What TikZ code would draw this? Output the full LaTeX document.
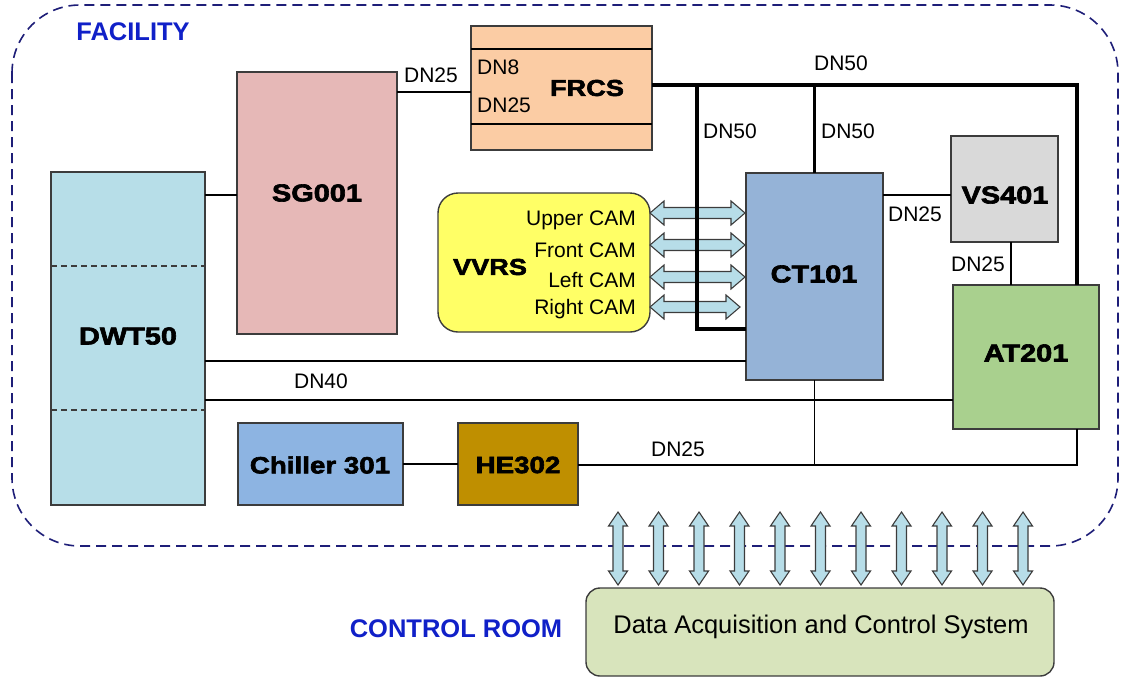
\documentclass[tikz,border=0pt]{standalone}
\usepackage{fontspec}
\setmainfont{Liberation Sans}
\newfontfamily\heavy{Liberation Sans}[FakeStretch=1.18,FakeBold=2.6]
\usetikzlibrary{calc}

\definecolor{dwtfill}{RGB}{183,222,232}
\definecolor{sgfill}{RGB}{230,184,183}
\definecolor{frcsfill}{RGB}{251,204,164}
\definecolor{vvrsfill}{RGB}{255,255,102}
\definecolor{ctfill}{RGB}{149,179,215}
\definecolor{vsfill}{RGB}{217,217,217}
\definecolor{atfill}{RGB}{169,208,142}
\definecolor{chfill}{RGB}{141,180,226}
\definecolor{hefill}{RGB}{191,143,0}
\definecolor{daqfill}{RGB}{216,228,188}
\definecolor{busfill}{RGB}{183,221,232}
\definecolor{edge}{RGB}{60,60,60}
\definecolor{navy}{RGB}{30,30,120}
\definecolor{roomblue}{RGB}{16,32,200}

% horizontal double arrow between two named points
\newcommand\hlink[2]{%
  \filldraw[bus] let \p1=(#1), \p2=(#2) in
    (\x1,\y1) -- (\x1+14pt,\y1+12pt) -- (\x1+14pt,\y1+5.5pt) -- (\x2-14pt,\y1+5.5pt)
    -- (\x2-14pt,\y1+12pt) -- (\x2,\y1) -- (\x2-14pt,\y1-12pt) -- (\x2-14pt,\y1-5.5pt)
    -- (\x1+14pt,\y1-5.5pt) -- (\x1+14pt,\y1-12pt) -- cycle;}
% vertical double arrow between two named points (first one on top)
\newcommand\vlink[2]{%
  \filldraw[bus] let \p1=(#1), \p2=(#2) in
    (\x1,\y1) -- (\x1+9.5pt,\y1-14pt) -- (\x1+5pt,\y1-14pt) -- (\x1+5pt,\y2+14pt)
    -- (\x1+9.5pt,\y2+14pt) -- (\x1,\y2) -- (\x1-9.5pt,\y2+14pt) -- (\x1-5pt,\y2+14pt)
    -- (\x1-5pt,\y1-14pt) -- (\x1-9.5pt,\y1-14pt) -- cycle;}

\begin{document}
\begin{tikzpicture}[x=1pt,y=-1pt,
  box/.style={draw=edge, line width=1.4pt, inner sep=0pt, outer sep=0pt, anchor=north west},
  biglbl/.style={font=\heavy\bfseries\fontsize{24.5}{28}\selectfont, inner sep=0pt},
  lbl/.style={font=\fontsize{21}{24}\selectfont, inner sep=0pt},
  pipe/.style={line width=2.2pt, black},
  thinpipe/.style={line width=1.7pt, black},
  thickpipe/.style={line width=3.2pt, black},
  bus/.style={fill=busfill, draw=edge, line width=1.1pt, line join=miter},
  room/.style={font=\bfseries\fontsize{25.5}{28}\selectfont, text=roomblue, inner sep=0pt},
  facility/.style={draw=navy, line width=1.6pt, dash pattern=on 10pt off 6pt, rounded corners=68pt}
]
\useasboundingbox (0,0) rectangle (1123,678);

% facility boundary
\draw[facility] (12,5) rectangle (1118,546);
\node[room] (facilitylbl) at (133,32) {FACILITY};
\node[room] (controllbl) at (456,629) {CONTROL ROOM};

% equipment blocks
\node[box, fill=dwtfill, minimum width=154pt, minimum height=333pt] (dwt) at (51,172) {};
\draw[edge, line width=1.2pt, dash pattern=on 6pt off 4pt] (dwt.west |- 0,266) -- (dwt.east |- 0,266);
\draw[edge, line width=1.2pt, dash pattern=on 6pt off 4pt] (dwt.west |- 0,410) -- (dwt.east |- 0,410);
\node[box, fill=sgfill, minimum width=160pt, minimum height=262pt] (sg) at (237,72) {};
\node[box, fill=frcsfill, minimum width=181pt, minimum height=124pt] (frcs) at (471,26) {};
\draw[black, line width=1.8pt] (frcs.west |- 0,49) -- (frcs.east |- 0,49);
\draw[black, line width=1.8pt] (frcs.west |- 0,124) -- (frcs.east |- 0,124);
\node[box, fill=vvrsfill, rounded corners=20pt, minimum width=212pt, minimum height=139pt] (vvrs) at (438,193) {};
\node[box, fill=ctfill, minimum width=137pt, minimum height=207pt] (ct) at (746,173) {};
\node[box, fill=vsfill, minimum width=107pt, minimum height=106pt] (vs) at (951,136) {};
\node[box, fill=atfill, minimum width=146pt, minimum height=144pt] (at) at (953,285) {};
\node[box, fill=chfill, minimum width=165pt, minimum height=82pt] (chiller) at (238,423) {};
\node[box, fill=hefill, minimum width=120pt, minimum height=82pt] (he) at (458,423) {};
\node[box, fill=daqfill, rounded corners=14pt, minimum width=468pt, minimum height=88pt] (daq) at (586,588) {};

% block titles
\node[biglbl] (dwtlbl) at (128,336) {DWT50};
\node[biglbl] (sglbl) at (317,193) {SG001};
\node[biglbl, font=\heavy\bfseries\fontsize{23}{26}\selectfont] (frcslbl) at (587,88) {FRCS};
\node[biglbl, font=\heavy\bfseries\fontsize{23}{26}\selectfont] (vvrslbl) at (490,267) {VVRS};
\node[biglbl] (ctlbl) at (814,274) {CT101};
\node[biglbl] (vslbl) at (1005,195) {VS401};
\node[biglbl] (atlbl) at (1026,353) {AT201};
\node[biglbl, font=\heavy\bfseries\fontsize{23.5}{28}\selectfont] (chlbl) at (320,465) {Chiller 301};
\node[biglbl, font=\heavy\bfseries\fontsize{23.5}{28}\selectfont] (helbl) at (518,465) {HE302};
\node[font=\fontsize{25.5}{28}\selectfont, inner sep=0pt] (daqlbl) at (821,627) {Data Acquisition and Control System};

% camera names
\foreach \k/\yy/\t in {1/220/Upper CAM, 2/250/Front CAM, 3/280/Left CAM, 4/309/Right CAM}
  \node[lbl, anchor=east] (cam\k) at (636,\yy) {\t};

% pipework
\coordinate (ne) at (1077,85);
\coordinate (loopTop) at (697,85);
\coordinate (loopBot) at (697,329);
\coordinate (se) at (1077,465);
\draw[pipe] (dwt.east |- 0,195) -- (sg.west |- 0,195);
\draw[pipe] (sg.east |- 0,92) -- (frcs.west |- 0,92);
\draw[thickpipe, line join=miter] (frcs.east |- ne) -- (ne) -- (at.north -| ne);
\draw[thickpipe, line join=miter] (loopTop) -- (loopBot) -- (ct.west |- loopBot);
\draw[thickpipe] (ct.north) -- (ct.north |- ne);
\draw[thinpipe] (ct.east |- 0,195) -- (vs.west |- 0,195);
\draw[thinpipe] (vs.south -| 1011,0) -- (at.north -| 1011,0);
\draw[pipe] (dwt.east |- 0,361) -- (ct.west |- 0,361);
\draw[pipe] (dwt.east |- 0,400) -- (at.west |- 0,400);
\draw[thinpipe] (ct.south) -- (ct.south |- se);
\draw[pipe] (chiller.east) -- (he.west);
\draw[pipe, line join=miter] (he.east |- se) -- (se) -- (at.south -| se);

% pipe sizes
\node[lbl] (dn25a) at (431,75) {DN25};
\node[lbl, anchor=west] (dn8) at (477,67) {DN8};
\node[lbl, anchor=west] (dn25b) at (477,105) {DN25};
\node[lbl] (dn50a) at (841,63) {DN50};
\node[lbl] (dn50b) at (730,131) {DN50};
\node[lbl] (dn50c) at (848,131) {DN50};
\node[lbl] (dn25c) at (915,214) {DN25};
\node[lbl] (dn25d) at (978,264) {DN25};
\node[lbl] (dn40) at (321,381) {DN40};
\node[lbl] (dn25e) at (678,449) {DN25};

% camera links VVRS <-> CT101
\foreach \k/\yy/\xe in {1/213/745, 2/245/745, 3/277/745, 4/307/740} {
  \coordinate (camL\k) at (vvrs.east |- 0,\yy);
  \coordinate (camR\k) at (\xe,\yy);
  \hlink{camL\k}{camR\k}
}
% redraw the loop line over the camera links
\draw[thickpipe] (loopTop |- camL1) ++(0,-12) -- (loopBot);

% data links facility <-> control room
\foreach \k in {0,...,10} {
  \coordinate (busT\k) at (618+40.5*\k,512);
  \coordinate (busB\k) at ($(daq.north -| busT\k)+(0,-3)$);
  \vlink{busT\k}{busB\k}
}
\end{tikzpicture}
\end{document}
